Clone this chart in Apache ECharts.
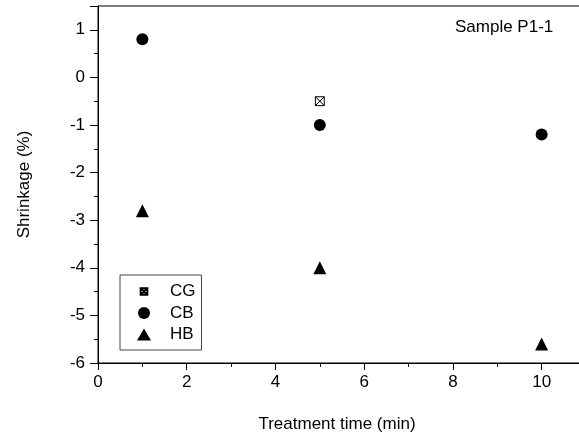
<!DOCTYPE html>
<html>
<head>
<meta charset="utf-8">
<script src="https://cdn.jsdelivr.net/npm/echarts@6/dist/echarts.min.js"></script>
<style>
  html, body { margin: 0; padding: 0; background: #fff; }
  #main { width: 579px; height: 445px; }
</style>
</head>
<body>
<div id="main"></div>
<script>
// treatment time (min) vs shrinkage (%)
const cgData = [[5, -0.5]];
const cbData = [[1, 0.8], [5, -1.0], [10, -1.2]];
const hbData = [[1, -2.8], [5, -4.0], [10, -5.6]];

// square with a cross; the two empty points pad the bounding box so the glyph draws small
const boxCross = 'path://M-4,-4L-4,-4 M14,14L14,14 M0,0L10,0L10,10L0,10Z M0,0L10,10 M10,0L0,10';
const font = 'Liberation Sans, Arial, sans-serif';

const chart = echarts.init(document.getElementById('main'));

chart.setOption({
  animation: false,
  backgroundColor: '#fff',
  grid: {
    left: 98, top: 6, width: 488, bottom: 82,
    outerBoundsMode: 'none',
    show: true, borderColor: '#000', borderWidth: 1
  },
  graphic: [{
    type: 'text', left: 455, top: 19,
    style: { text: 'Sample P1-1', fontSize: 17, fontFamily: font, fill: '#000' }
  }],
  legend: {
    orient: 'vertical',
    left: 120, top: 275,
    padding: [8, 6, 7, 17],
    itemGap: 4.5,
    itemWidth: 14, itemHeight: 12,
    borderColor: '#444', borderWidth: 1,
    textStyle: { fontSize: 17, lineHeight: 17, fontFamily: font, color: '#000', padding: [0, 0, 0, 14] },
    data: ['CG', 'CB', 'HB']
  },
  xAxis: {
    type: 'value', min: 0, max: 11, interval: 2,
    name: 'Treatment time (min)', nameLocation: 'middle', nameGap: 53,
    nameTextStyle: { fontSize: 17, fontFamily: font, color: '#000', padding: [0, 10, 0, 0] },
    axisLine: { onZero: false, lineStyle: { color: '#000' } },
    axisTick: { show: true, inside: false, length: 7, lineStyle: { color: '#000' } },
    minorTick: { show: true, splitNumber: 2, length: 4, lineStyle: { color: '#000' } },
    axisLabel: { fontSize: 17, fontFamily: font, color: '#000', margin: 11, showMaxLabel: false },
    splitLine: { show: false }
  },
  yAxis: {
    type: 'value', min: -6, max: 1.5, interval: 1,
    name: 'Shrinkage (%)', nameLocation: 'middle', nameGap: 65,
    nameTextStyle: { fontSize: 17, fontFamily: font, color: '#000' },
    axisLine: { onZero: false, lineStyle: { color: '#000' } },
    axisTick: { show: true, inside: false, length: 8, lineStyle: { color: '#000' } },
    minorTick: { show: true, splitNumber: 2, length: 4, lineStyle: { color: '#000' } },
    axisLabel: { fontSize: 17, fontFamily: font, color: '#000', margin: 13, showMaxLabel: false },
    splitLine: { show: false }
  },
  series: [
    {
      name: 'CG', type: 'scatter', data: cgData,
      symbol: boxCross, symbolSize: 16,
      itemStyle: { color: '#fff', borderColor: '#000', borderWidth: 1, opacity: 1 }
    },
    {
      name: 'CB', type: 'scatter', data: cbData,
      symbol: 'circle', symbolSize: 12,
      itemStyle: { color: '#000', opacity: 1 }
    },
    {
      name: 'HB', type: 'scatter', data: hbData,
      symbol: 'triangle', symbolSize: 13,
      itemStyle: { color: '#000', opacity: 1 }
    }
  ]
});
</script>
</body>
</html>
